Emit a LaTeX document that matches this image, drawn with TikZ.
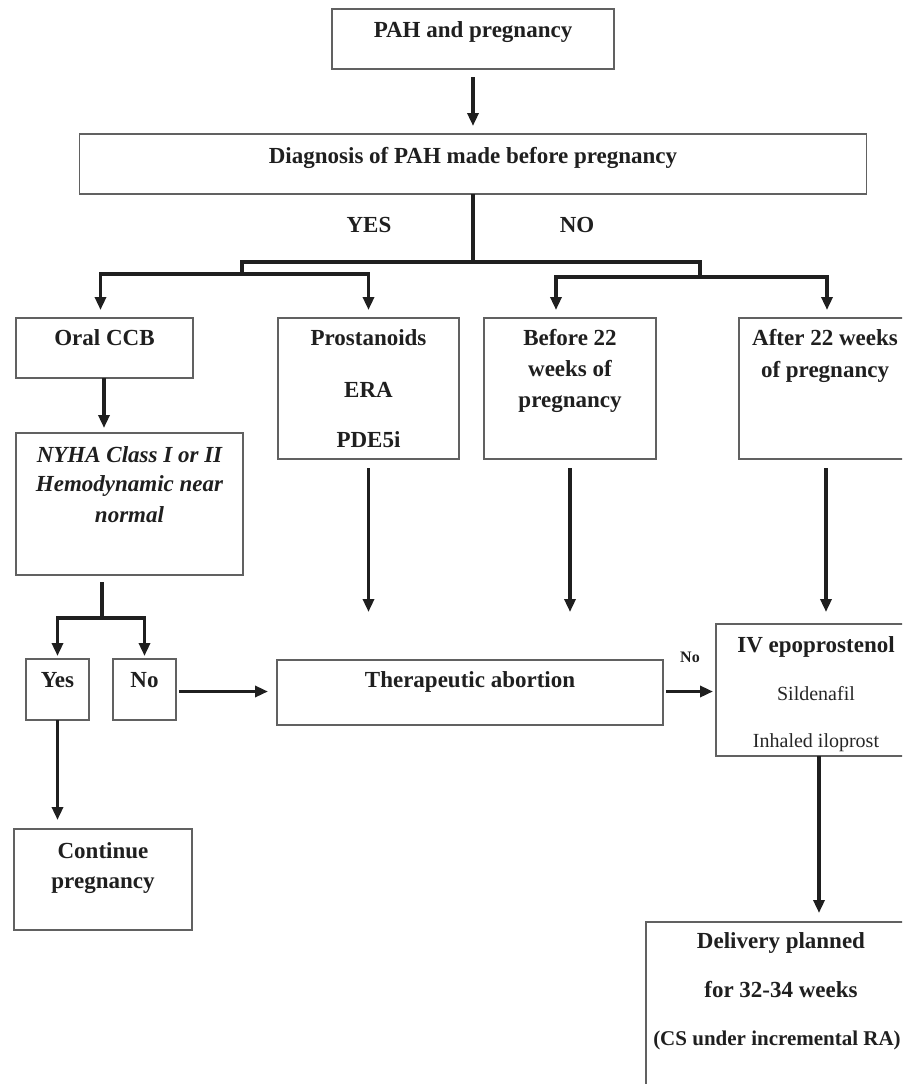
\documentclass[tikz,border=0pt]{standalone}
\usepackage{fontspec}
\setmainfont{Liberation Serif}
\usetikzlibrary{arrows.meta,calc}
\begin{document}
\begin{tikzpicture}[x=1pt,y=-1pt,
  box/.style={draw=black!62,line width=1.6pt,inner sep=0pt,outer sep=0pt},
  ln/.style={draw=black!88,line width=3.3pt},
  arr/.style={ln,-{Triangle[length=13pt,width=11pt]}},
  bt/.style={anchor=base,inner sep=0pt,text=black!88,font=\fontsize{23}{28}\selectfont\bfseries},
  it/.style={anchor=base,inner sep=0pt,text=black!88,font=\fontsize{23}{28}\selectfont\bfseries\itshape},
  rt/.style={anchor=base,inner sep=0pt,text=black!85,font=\fontsize{20}{24}\selectfont},
  st/.style={anchor=base,inner sep=0pt,text=black!88,font=\fontsize{16}{20}\selectfont\bfseries}]
\useasboundingbox (0,0) rectangle (902,1084);
\fill[white] (0,0) rectangle (902,1084);
\clip (0,0) rectangle (902,1084);

% boxes
\node[box,minimum width=282pt,minimum height=60pt] (pah) at (473,39) {};
\node[box,minimum width=787pt,minimum height=60pt] (diag) at (473,164) {};
\node[box,minimum width=177pt,minimum height=60pt] (ccb) at (104.5,348) {};
\node[box,minimum width=181pt,minimum height=141pt] (pros) at (368.5,388.5) {};
\node[box,minimum width=172pt,minimum height=141pt] (bef) at (570,388.5) {};
\node[box,minimum width=172pt,minimum height=141pt] (aft) at (825,388.5) {};
\node[box,minimum width=227pt,minimum height=142pt] (nyha) at (129.5,504) {};
\node[box,minimum width=63pt,minimum height=61pt] (yes) at (57.5,689.5) {};
\node[box,minimum width=63pt,minimum height=61pt] (no) at (144.5,689.5) {};
\node[box,minimum width=386pt,minimum height=65pt] (thera) at (470,692.5) {};
\node[box,minimum width=200pt,minimum height=132pt] (iv) at (816,690) {};
\node[box,minimum width=178pt,minimum height=101pt] (cont) at (103,879.5) {};
\node[box,minimum width=270pt,minimum height=173pt] (deliv) at (781,1008.5) {};

% texts
\node[bt] (pah-t) at (473,37) {PAH and pregnancy};
\node[bt] (diag-t) at (473,163) {Diagnosis of PAH made before pregnancy};
\node[bt] (yes-l) at (369,232) {YES};
\node[bt] (no-l) at (577,232) {NO};
\node[bt] (ccb-t) at (104.5,345) {Oral CCB};
\node[bt] (pros-t1) at (368.5,345) {Prostanoids};
\node[bt] (pros-t2) at (368.5,397) {ERA};
\node[bt] (pros-t3) at (368.5,447) {PDE5i};
\node[bt] (bef-t1) at (570,345) {Before 22};
\node[bt] (bef-t2) at (570,376) {weeks of};
\node[bt] (bef-t3) at (570,407) {pregnancy};
\node[bt] (aft-t1) at (825,345) {After 22 weeks};
\node[bt] (aft-t2) at (825,377) {of pregnancy};
\node[it] (nyha-t1) at (129.5,462) {NYHA Class I or II};
\node[it] (nyha-t2) at (129.5,491) {Hemodynamic near};
\node[it] (nyha-t3) at (129.5,522) {normal};
\node[bt] (yes-t) at (57.5,687) {Yes};
\node[bt] (no-t) at (144.5,687) {No};
\node[bt] (thera-t) at (470,687) {Therapeutic abortion};
\node[bt] (iv-t1) at (816,652) {IV epoprostenol};
\node[rt] (iv-t2) at (816,700) {Sildenafil};
\node[rt] (iv-t3) at (816,747) {Inhaled iloprost};
\node[bt] (cont-t1) at (103,858) {Continue};
\node[bt] (cont-t2) at (103,888) {pregnancy};
\node[bt] (del-t1) at (781,948) {Delivery planned};
\node[bt] (del-t2) at (781,997) {for 32-34 weeks};
\node[bt,font=\fontsize{21}{26}\selectfont\bfseries] (del-t3) at (777,1045) {(CS under incremental RA)};
\node[st] (no-small) at (690,662) {No};

% connectors
\coordinate (ja) at (242,262);
\coordinate (jb) at (700,262);
\coordinate (ja2) at (242,274);
\coordinate (jb2) at (700,277);
\draw[ln] (diag.south) -- (diag.south |- ja);
\draw[ln] (ja2) -- (ja) -- (jb) -- (jb2);
\draw[arr] (ja2) -| ([xshift=-4pt,yshift=8pt]ccb.north);
\draw[arr] (ja2) -| ([yshift=8pt]pros.north);
\draw[arr] (jb2) -| ([xshift=-14pt,yshift=8pt]bef.north);
\draw[arr] (jb2) -| ([xshift=2pt,yshift=8pt]aft.north);

\draw[arr] ([yshift=-8pt]pah.south) -- ([yshift=8pt]diag.north);
\draw[arr] ([xshift=-0.5pt]ccb.south) -- ([xshift=-0.5pt,yshift=5pt]ccb.south |- nyha.north);

\coordinate (n1) at (102,582);
\coordinate (n2) at (102,618);
\draw[ln] (n1) -- (n2);
\draw[arr] (n2) -| ([yshift=3pt]yes.north);
\draw[arr] (n2) -| ([yshift=3pt]no.north);

\draw[arr] ([yshift=-9pt]pros.south) -- ([yshift=48pt]pros.south |- thera.north);
\draw[arr] ([yshift=-9pt]bef.south) -- ([yshift=48pt]bef.south |- thera.north);
\draw[arr] ([xshift=1pt,yshift=-9pt]aft.south) -- ([xshift=1pt,yshift=12pt]aft.south |- iv.north);

\draw[arr] ([xshift=3pt,yshift=-2pt]no.east) -- ([xshift=-9pt,yshift=-2pt]thera.west |- no.east);
\draw[arr] ([xshift=3pt,yshift=1pt]thera.east) -- ([xshift=-3pt,yshift=1pt]iv.west |- thera.east);
\draw[arr] ([xshift=3pt]iv.south) -- ([xshift=3pt,yshift=9pt]iv.south |- deliv.north);
\draw[arr] (yes.south) -- ([yshift=9pt]yes.south |- cont.north);
\end{tikzpicture}
\end{document}
